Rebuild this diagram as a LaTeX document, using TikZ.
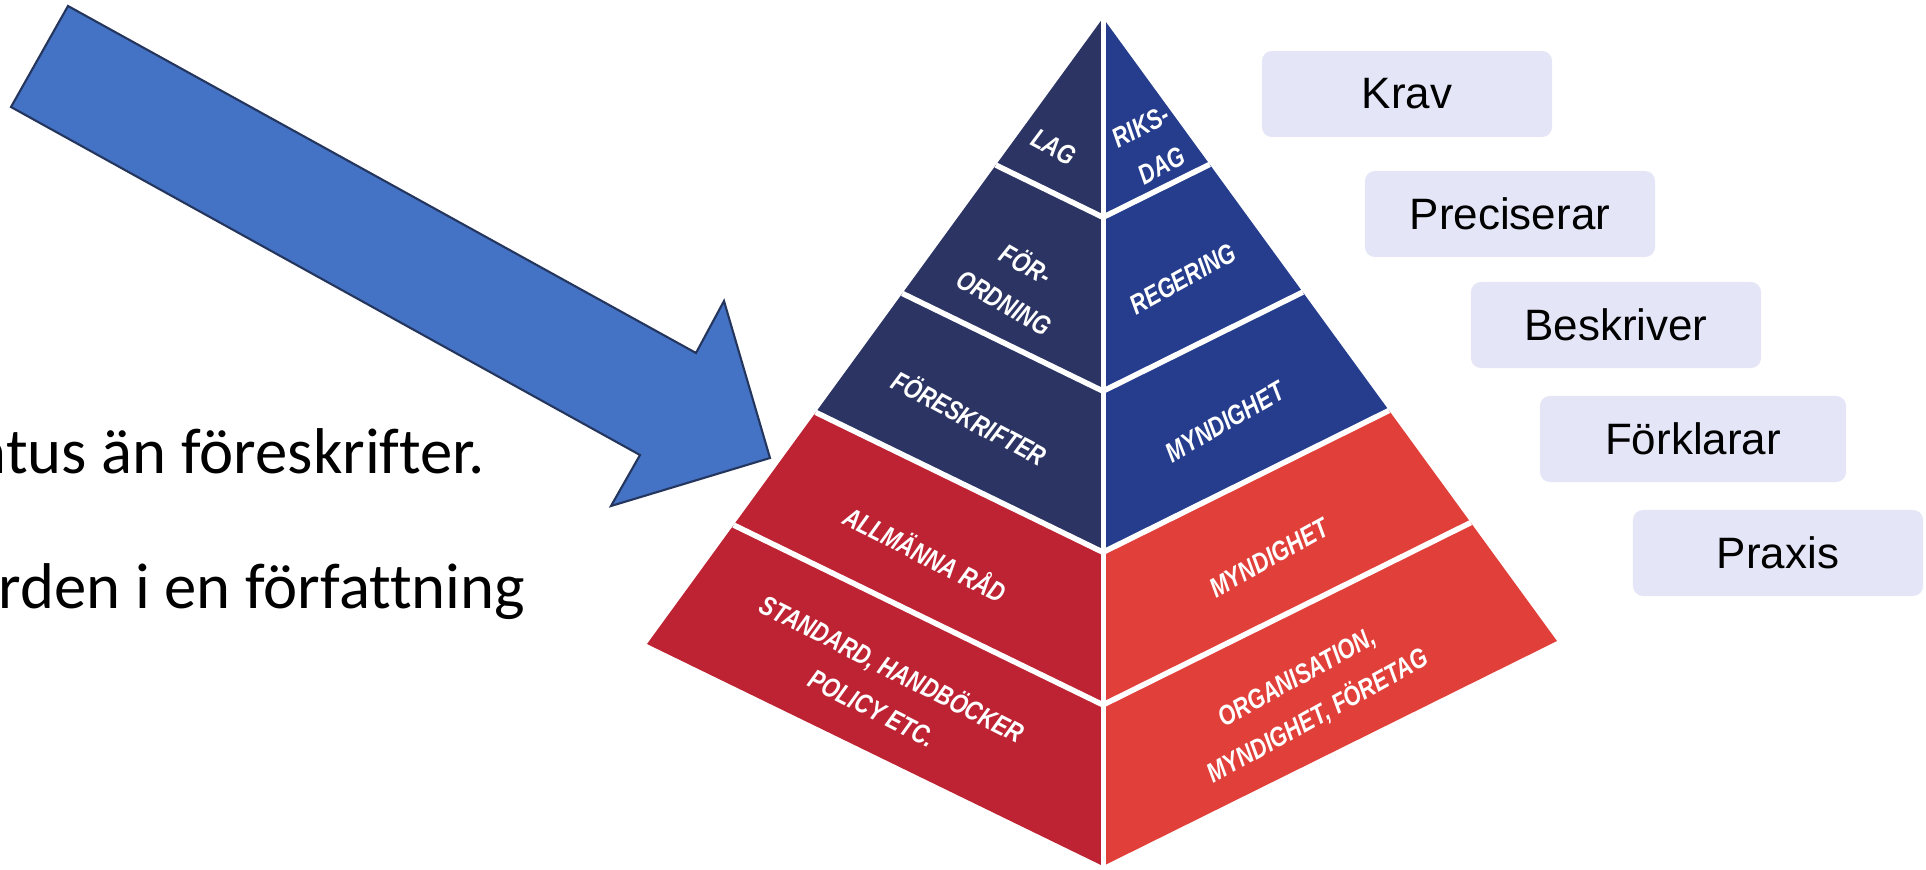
\documentclass[tikz,border=0pt]{standalone}
\usepackage{fontspec}
\setmainfont{Liberation Sans}
\newfontfamily\calfont[Ligatures=CommonOff]{Carlito}
\newfontfamily\pyrfont[FakeStretch=0.8]{Liberation Sans}
\usetikzlibrary{calc}
\definecolor{navyL}{HTML}{2B3463}
\definecolor{blueR}{HTML}{253D8C}
\definecolor{redL}{HTML}{BE2333}
\definecolor{redR}{HTML}{E1403A}
\definecolor{boxfill}{HTML}{E4E5F6}
\definecolor{arrowfill}{HTML}{4472C4}
\definecolor{arrowline}{HTML}{24365E}
\begin{document}
\begin{tikzpicture}[x=0.01cm,y=-0.01cm,
  lbl/.style={rounded corners=0.1cm, fill=boxfill, minimum width=2.9cm, minimum height=0.86cm,
    font=\fontsize{12.5}{15}\selectfont, text=black, inner sep=0},
  pyr/.style={text=white, font=\pyrfont\bfseries\itshape\fontsize{7.8}{12.5}\selectfont, align=center, inner sep=0},
  divider/.style={white, line width=0.055cm},
  body/.style={font=\calfont\fontsize{18.4}{22}\selectfont, anchor=base west, inner sep=0, text=black}
]
\useasboundingbox (0,0) rectangle (1926,870);
\begin{scope}
\clip (0,0) rectangle (1926,870);
% left text
\node[body] (t1) at (-25,474) {atus än föreskrifter.};
\node[body] (t2) at (-2,608) {rden i en författning};
\end{scope}

% arrow
\draw[fill=arrowfill, draw=arrowline, line width=0.6pt, line join=miter]
  (68,6) -- (696,353) -- (724,301) -- (770,458) -- (611,506) -- (640,455) -- (11,107) -- cycle;

% pyramid
\coordinate (A) at (1103,18);
\coordinate (L) at (647,644);
\coordinate (B) at (1103,866);
\coordinate (R) at (1557,641);
\foreach \i/\t in {1/0.235,2/0.44,3/0.63,4/0.81} {
  \coordinate (L\i) at ($(A)!\t!(L)$);
  \coordinate (C\i) at ($(A)!\t!(B)$);
  \coordinate (R\i) at ($(A)!\t!(R)$);
}
\fill[navyL] (A) -- (L3) -- (C3) -- cycle;
\fill[redL] (L3) -- (L) -- (B) -- (C3) -- cycle;
\fill[blueR] (A) -- (C3) -- (R3) -- cycle;
\fill[redR] (C3) -- (B) -- (R) -- (R3) -- cycle;
\foreach \i in {1,2,3,4} {
  \draw[divider] (L\i) -- (C\i) -- (R\i);
}
\draw[white, line width=0.05cm] (A) -- (B);

% pyramid texts
\node[pyr, rotate=-28] (lag) at (1054,147) {LAG};
\node[pyr, rotate=28] (riksdag) at (1151,146) {RIKS-\\DAG};
\node[pyr, rotate=-30] (forordning) at (1016,282) {FÖR-\\ORDNING};
\node[pyr, rotate=29] (regering) at (1183,279) {REGERING};
\node[pyr, rotate=-28] (foreskrifter) at (970,417) {FÖRESKRIFTER};
\node[pyr, rotate=30] (myndA) at (1225,422) {MYNDIGHET};
\node[pyr, rotate=-27] (allmanna) at (926,553) {ALLMÄNNA RÅD};
\node[pyr, rotate=29] (myndB) at (1269,558) {MYNDIGHET};
\node[pyr, rotate=-27] (standard) at (883,687) {STANDARD, HANDBÖCKER\\POLICY ETC.};
\node[pyr, rotate=29] (organisation) at (1308,698) {ORGANISATION,\\MYNDIGHET, FÖRETAG};

% label boxes
\node[lbl] (krav) at (1407,94) {Krav};
\node[lbl] (preciserar) at (1510,214) {Preciserar};
\node[lbl] (beskriver) at (1616,325) {Beskriver};
\node[lbl, minimum width=3.06cm] (forklarar) at (1693,439) {Förklarar};
\node[lbl] (praxis) at (1778,553) {Praxis};
\end{tikzpicture}
\end{document}
